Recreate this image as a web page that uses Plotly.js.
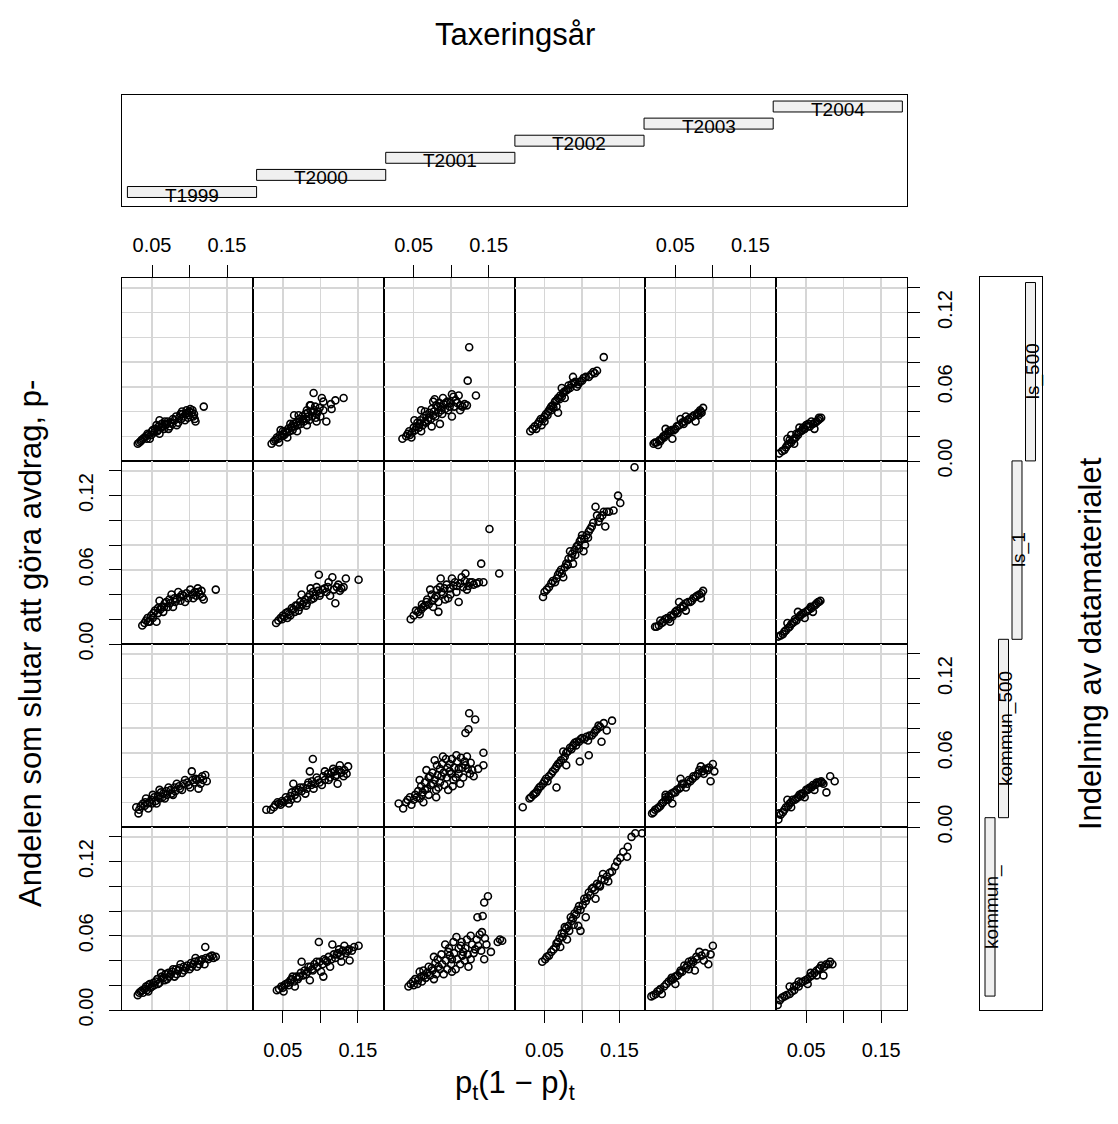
<!DOCTYPE html>
<html><head><meta charset="utf-8">
<script src="https://cdn.plot.ly/plotly-3.0.1.min.js"></script>
<style>html,body{margin:0;padding:0;background:#fff}#chart{width:1118px;height:1124px}</style>
</head><body><div id="chart"></div>
<script>
// ---- conditioning levels ----
const years = ['T1999','T2000','T2001','T2002','T2003','T2004'];
const yearLow = [0.5,1.5,2.5,3.5,4.5,5.5];
const yearHigh = [1.5,2.5,3.5,4.5,5.5,6.5];
const groups = ['kommun_','kommun_500','ls_1','ls_500']; // bottom to top
const groupLow = [0.5,1.5,2.5,3.5];
const groupHigh = [1.5,2.5,3.5,4.5];

// ---- ticks ----
const xTickVals = [0.05,0.15];
const xTickText = ['0.05','0.15'];
const xMinorVals = [0.10];
const yTickVals = [0,0.06,0.12];
const yTickText = ['0.00','0.06','0.12'];
const yMinorVals = [0.02,0.04,0.08,0.10,0.14];

// ---- data: [p(1-p), share] per panel ----
const ls_500_T1999 = [[0.031,0.014],[0.035,0.016],[0.038,0.018],[0.042,0.020],[0.045,0.021],[0.047,0.018],[0.051,0.025],[0.053,0.023],[0.056,0.029],[0.058,0.025],[0.060,0.022],[0.060,0.033],[0.062,0.027],[0.065,0.028],[0.067,0.032],[0.070,0.030],[0.072,0.026],[0.075,0.031],[0.078,0.034],[0.083,0.029],[0.086,0.035],[0.088,0.038],[0.090,0.040],[0.094,0.033],[0.097,0.039],[0.099,0.037],[0.101,0.042],[0.103,0.039],[0.105,0.036],[0.108,0.032],[0.119,0.044],
  [0.033,0.015],[0.036,0.017],[0.040,0.019],[0.043,0.018],[0.044,0.022],[0.049,0.021],[0.050,0.024],[0.054,0.026],[0.057,0.024],[0.059,0.028],[0.063,0.030],[0.066,0.026],[0.068,0.029],[0.071,0.032],[0.074,0.028],[0.077,0.030],[0.080,0.033],[0.082,0.036],[0.085,0.031],[0.089,0.034],[0.092,0.036],[0.095,0.038],[0.098,0.035],[0.100,0.040],[0.104,0.041],[0.106,0.038],[0.107,0.034],[0.096,0.041],[0.091,0.038]];
const ls_500_T2000 = [[0.035,0.014],[0.040,0.017],[0.045,0.015],[0.047,0.025],[0.051,0.022],[0.053,0.024],[0.056,0.019],[0.060,0.030],[0.062,0.028],[0.065,0.037],[0.069,0.024],[0.071,0.037],[0.073,0.032],[0.077,0.034],[0.082,0.041],[0.082,0.029],[0.084,0.036],[0.086,0.045],[0.087,0.045],[0.090,0.040],[0.091,0.055],[0.093,0.044],[0.095,0.038],[0.095,0.032],[0.100,0.036],[0.102,0.051],[0.104,0.048],[0.104,0.041],[0.108,0.032],[0.114,0.046],[0.115,0.042],[0.120,0.049],[0.131,0.051],
  [0.038,0.016],[0.042,0.019],[0.044,0.018],[0.046,0.021],[0.049,0.020],[0.050,0.024],[0.052,0.021],[0.055,0.023],[0.057,0.026],[0.059,0.024],[0.061,0.027],[0.063,0.025],[0.064,0.030],[0.066,0.028],[0.068,0.031],[0.070,0.029],[0.072,0.034],[0.074,0.030],[0.076,0.036],[0.078,0.032],[0.080,0.038],[0.081,0.034],[0.083,0.039],[0.085,0.033],[0.088,0.040],[0.089,0.036],[0.092,0.041],[0.094,0.035],[0.097,0.040],[0.099,0.043]];
const ls_500_T2001 = [[0.035,0.018],[0.042,0.022],[0.045,0.021],[0.047,0.019],[0.051,0.033],[0.054,0.028],[0.058,0.030],[0.060,0.024],[0.060,0.041],[0.065,0.032],[0.065,0.040],[0.070,0.035],[0.074,0.028],[0.076,0.037],[0.076,0.048],[0.078,0.050],[0.082,0.044],[0.085,0.030],[0.087,0.041],[0.089,0.051],[0.093,0.047],[0.098,0.044],[0.101,0.036],[0.101,0.054],[0.103,0.052],[0.110,0.053],[0.112,0.045],[0.112,0.041],[0.121,0.045],[0.122,0.065],[0.124,0.092],[0.133,0.053],
  [0.040,0.020],[0.044,0.024],[0.048,0.023],[0.050,0.027],[0.052,0.025],[0.055,0.031],[0.057,0.027],[0.059,0.033],[0.062,0.029],[0.063,0.035],[0.066,0.031],[0.067,0.037],[0.069,0.033],[0.071,0.039],[0.073,0.034],[0.074,0.042],[0.077,0.040],[0.079,0.036],[0.080,0.045],[0.083,0.039],[0.084,0.047],[0.086,0.044],[0.088,0.038],[0.090,0.046],[0.092,0.042],[0.095,0.048],[0.096,0.041],[0.099,0.047],[0.104,0.044],[0.106,0.049],[0.108,0.047],[0.115,0.044],[0.118,0.046]];
const ls_500_T2002 = [[0.031,0.024],[0.037,0.028],[0.039,0.026],[0.043,0.032],[0.046,0.029],[0.050,0.036],[0.050,0.032],[0.055,0.040],[0.059,0.044],[0.059,0.041],[0.064,0.048],[0.066,0.044],[0.068,0.051],[0.068,0.039],[0.073,0.059],[0.075,0.055],[0.077,0.051],[0.079,0.057],[0.084,0.059],[0.088,0.068],[0.091,0.064],[0.093,0.060],[0.097,0.064],[0.102,0.067],[0.109,0.068],[0.115,0.072],[0.120,0.073],[0.129,0.084],
  [0.034,0.026],[0.041,0.030],[0.045,0.034],[0.048,0.034],[0.052,0.038],[0.054,0.037],[0.057,0.042],[0.061,0.045],[0.062,0.043],[0.066,0.049],[0.070,0.050],[0.071,0.053],[0.073,0.052],[0.076,0.056],[0.081,0.058],[0.082,0.061],[0.086,0.062],[0.089,0.063],[0.095,0.062],[0.100,0.065],[0.105,0.068],[0.112,0.070],[0.117,0.071]];
const ls_500_T2003 = [[0.021,0.014],[0.025,0.015],[0.027,0.013],[0.032,0.018],[0.037,0.021],[0.037,0.026],[0.043,0.024],[0.046,0.018],[0.048,0.025],[0.055,0.029],[0.057,0.034],[0.061,0.030],[0.064,0.036],[0.066,0.033],[0.073,0.036],[0.077,0.032],[0.079,0.038],[0.081,0.037],[0.084,0.040],[0.087,0.043],
  [0.023,0.015],[0.029,0.017],[0.030,0.016],[0.034,0.020],[0.035,0.019],[0.040,0.022],[0.041,0.024],[0.045,0.025],[0.050,0.026],[0.052,0.028],[0.059,0.031],[0.062,0.032],[0.068,0.034],[0.070,0.035],[0.075,0.037],[0.080,0.039],[0.083,0.041],[0.085,0.039]];
const ls_500_T2004 = [[0.014,0.006],[0.021,0.009],[0.025,0.013],[0.025,0.018],[0.030,0.015],[0.030,0.021],[0.034,0.018],[0.034,0.014],[0.039,0.021],[0.041,0.027],[0.043,0.024],[0.048,0.026],[0.050,0.029],[0.055,0.028],[0.057,0.032],[0.059,0.030],[0.061,0.026],[0.064,0.032],[0.068,0.034],[0.070,0.035],
  [0.018,0.008],[0.023,0.011],[0.027,0.014],[0.028,0.017],[0.032,0.017],[0.036,0.019],[0.037,0.022],[0.040,0.023],[0.045,0.025],[0.046,0.027],[0.052,0.028],[0.053,0.030],[0.062,0.031],[0.066,0.033],[0.067,0.035]];

const ls_1_T1999 = [[0.037,0.015],[0.042,0.019],[0.047,0.018],[0.049,0.023],[0.054,0.027],[0.056,0.018],[0.060,0.035],[0.063,0.030],[0.065,0.026],[0.069,0.034],[0.076,0.040],[0.078,0.030],[0.083,0.036],[0.085,0.042],[0.090,0.040],[0.094,0.034],[0.101,0.044],[0.105,0.037],[0.111,0.045],[0.114,0.040],[0.119,0.036],[0.135,0.044],
  [0.040,0.017],[0.044,0.021],[0.045,0.018],[0.051,0.021],[0.052,0.025],[0.058,0.025],[0.058,0.029],[0.061,0.028],[0.066,0.030],[0.067,0.033],[0.071,0.030],[0.073,0.036],[0.074,0.033],[0.080,0.037],[0.081,0.034],[0.087,0.038],[0.088,0.035],[0.092,0.039],[0.096,0.041],[0.098,0.037],[0.103,0.040],[0.107,0.042],[0.109,0.039],[0.112,0.042],[0.116,0.043],[0.117,0.038]];
const ls_1_T2000 = [[0.041,0.017],[0.047,0.021],[0.054,0.025],[0.056,0.021],[0.060,0.023],[0.062,0.029],[0.069,0.031],[0.071,0.027],[0.075,0.040],[0.078,0.034],[0.082,0.033],[0.084,0.038],[0.087,0.045],[0.091,0.037],[0.095,0.046],[0.098,0.056],[0.100,0.041],[0.106,0.045],[0.111,0.050],[0.113,0.039],[0.116,0.054],[0.120,0.033],[0.124,0.048],[0.126,0.043],[0.131,0.046],[0.134,0.053],[0.151,0.052],
  [0.044,0.019],[0.049,0.020],[0.050,0.023],[0.052,0.022],[0.057,0.026],[0.058,0.024],[0.064,0.028],[0.066,0.026],[0.067,0.031],[0.073,0.030],[0.073,0.034],[0.076,0.032],[0.080,0.036],[0.081,0.031],[0.086,0.040],[0.088,0.036],[0.090,0.042],[0.093,0.039],[0.097,0.043],[0.099,0.039],[0.103,0.044],[0.108,0.042],[0.110,0.046],[0.118,0.044],[0.122,0.046],[0.128,0.045]];
const ls_1_T2001 = [[0.046,0.020],[0.056,0.026],[0.058,0.024],[0.063,0.030],[0.067,0.034],[0.072,0.044],[0.076,0.030],[0.078,0.037],[0.083,0.026],[0.086,0.053],[0.087,0.042],[0.094,0.048],[0.096,0.037],[0.101,0.053],[0.105,0.050],[0.107,0.042],[0.110,0.034],[0.114,0.054],[0.119,0.057],[0.121,0.044],[0.125,0.050],[0.134,0.049],[0.140,0.065],[0.143,0.050],[0.151,0.093],[0.164,0.057],
  [0.050,0.023],[0.053,0.027],[0.060,0.028],[0.061,0.032],[0.065,0.031],[0.068,0.036],[0.070,0.032],[0.074,0.040],[0.075,0.035],[0.080,0.039],[0.081,0.044],[0.083,0.034],[0.085,0.046],[0.089,0.040],[0.091,0.045],[0.092,0.036],[0.098,0.045],[0.099,0.040],[0.103,0.047],[0.108,0.047],[0.112,0.049],[0.116,0.046],[0.118,0.051],[0.123,0.047],[0.128,0.050],[0.130,0.048],[0.137,0.050]];
const ls_1_T2002 = [[0.048,0.038],[0.050,0.042],[0.059,0.049],[0.064,0.050],[0.066,0.053],[0.070,0.058],[0.075,0.054],[0.077,0.062],[0.082,0.069],[0.084,0.075],[0.088,0.065],[0.091,0.072],[0.093,0.079],[0.097,0.083],[0.100,0.088],[0.102,0.075],[0.104,0.080],[0.109,0.091],[0.113,0.095],[0.118,0.111],[0.122,0.099],[0.127,0.104],[0.131,0.095],[0.133,0.107],[0.142,0.108],[0.148,0.120],[0.151,0.114],[0.170,0.143],
  [0.053,0.044],[0.056,0.046],[0.061,0.051],[0.068,0.056],[0.072,0.060],[0.073,0.057],[0.079,0.065],[0.081,0.064],[0.086,0.070],[0.087,0.073],[0.090,0.076],[0.095,0.080],[0.096,0.077],[0.099,0.085],[0.103,0.085],[0.106,0.088],[0.108,0.086],[0.111,0.093],[0.115,0.098],[0.120,0.104],[0.124,0.102],[0.129,0.107],[0.136,0.107]];
const ls_1_T2003 = [[0.023,0.014],[0.028,0.015],[0.030,0.019],[0.034,0.018],[0.039,0.021],[0.043,0.018],[0.046,0.022],[0.050,0.026],[0.055,0.034],[0.057,0.029],[0.064,0.033],[0.064,0.027],[0.070,0.034],[0.077,0.038],[0.082,0.040],[0.084,0.037],[0.087,0.043],
  [0.025,0.014],[0.032,0.017],[0.036,0.020],[0.041,0.020],[0.044,0.023],[0.048,0.024],[0.052,0.027],[0.053,0.025],[0.060,0.031],[0.061,0.030],[0.067,0.034],[0.072,0.035],[0.074,0.037],[0.079,0.039],[0.085,0.041]];
const ls_1_T2004 = [[0.013,0.006],[0.019,0.008],[0.023,0.011],[0.025,0.017],[0.028,0.014],[0.032,0.017],[0.037,0.019],[0.039,0.026],[0.041,0.022],[0.046,0.025],[0.048,0.021],[0.052,0.027],[0.057,0.029],[0.059,0.026],[0.061,0.031],[0.066,0.034],[0.069,0.035],
  [0.016,0.007],[0.021,0.010],[0.026,0.013],[0.030,0.016],[0.034,0.018],[0.035,0.020],[0.042,0.023],[0.044,0.024],[0.050,0.026],[0.054,0.028],[0.056,0.030],[0.063,0.032],[0.064,0.033],[0.067,0.034]];

const kommun_500_T1999 = [[0.029,0.016],[0.032,0.011],[0.038,0.019],[0.042,0.023],[0.045,0.015],[0.047,0.020],[0.051,0.026],[0.056,0.019],[0.060,0.030],[0.065,0.027],[0.067,0.023],[0.072,0.032],[0.078,0.026],[0.083,0.035],[0.090,0.030],[0.094,0.038],[0.101,0.032],[0.103,0.045],[0.108,0.039],[0.112,0.031],[0.117,0.041],[0.121,0.042],[0.123,0.037],
  [0.033,0.014],[0.035,0.017],[0.040,0.017],[0.041,0.020],[0.044,0.019],[0.049,0.022],[0.050,0.019],[0.053,0.024],[0.055,0.021],[0.058,0.025],[0.060,0.023],[0.062,0.028],[0.064,0.024],[0.069,0.029],[0.070,0.026],[0.075,0.030],[0.076,0.027],[0.080,0.032],[0.081,0.029],[0.086,0.033],[0.087,0.031],[0.092,0.035],[0.097,0.036],[0.099,0.034],[0.104,0.038],[0.106,0.036],[0.110,0.038],[0.114,0.039],[0.118,0.038],[0.115,0.035]];
const kommun_500_T2000 = [[0.028,0.014],[0.034,0.014],[0.038,0.016],[0.043,0.020],[0.047,0.018],[0.054,0.024],[0.058,0.019],[0.062,0.028],[0.064,0.035],[0.069,0.023],[0.073,0.032],[0.080,0.027],[0.084,0.036],[0.086,0.045],[0.090,0.055],[0.091,0.031],[0.095,0.040],[0.102,0.034],[0.106,0.045],[0.111,0.038],[0.117,0.047],[0.122,0.042],[0.123,0.035],[0.126,0.050],[0.131,0.041],[0.135,0.043],[0.137,0.049],
  [0.040,0.018],[0.045,0.019],[0.049,0.021],[0.051,0.020],[0.056,0.022],[0.060,0.025],[0.061,0.022],[0.066,0.026],[0.067,0.029],[0.071,0.030],[0.075,0.029],[0.077,0.032],[0.082,0.031],[0.083,0.034],[0.088,0.034],[0.089,0.037],[0.093,0.035],[0.097,0.038],[0.099,0.036],[0.104,0.041],[0.106,0.038],[0.110,0.043],[0.113,0.040],[0.115,0.044],[0.119,0.045],[0.120,0.041],[0.125,0.046],[0.128,0.044],[0.132,0.046]];
const kommun_500_T2001 = [[0.030,0.019],[0.036,0.015],[0.045,0.024],[0.047,0.018],[0.054,0.024],[0.058,0.038],[0.061,0.026],[0.063,0.020],[0.065,0.030],[0.067,0.046],[0.072,0.041],[0.076,0.035],[0.078,0.054],[0.080,0.024],[0.083,0.032],[0.085,0.047],[0.087,0.041],[0.089,0.057],[0.096,0.030],[0.098,0.045],[0.098,0.051],[0.103,0.038],[0.107,0.058],[0.110,0.047],[0.112,0.035],[0.119,0.050],[0.119,0.076],[0.121,0.057],[0.123,0.079],[0.124,0.092],[0.125,0.043],[0.130,0.041],[0.132,0.087],[0.136,0.047],[0.143,0.060],[0.143,0.050],
  [0.040,0.020],[0.042,0.022],[0.050,0.022],[0.052,0.026],[0.056,0.029],[0.058,0.023],[0.060,0.033],[0.062,0.028],[0.065,0.036],[0.068,0.031],[0.070,0.040],[0.070,0.026],[0.073,0.034],[0.075,0.044],[0.078,0.038],[0.080,0.030],[0.081,0.050],[0.082,0.042],[0.085,0.036],[0.088,0.051],[0.090,0.044],[0.091,0.034],[0.093,0.055],[0.094,0.040],[0.095,0.048],[0.100,0.043],[0.101,0.055],[0.102,0.033],[0.104,0.048],[0.106,0.040],[0.108,0.053],[0.110,0.043],[0.113,0.056],[0.115,0.048],[0.116,0.040],[0.118,0.053],[0.122,0.047],[0.126,0.052],[0.128,0.046]];
const kommun_500_T2002 = [[0.021,0.016],[0.030,0.023],[0.032,0.024],[0.039,0.028],[0.043,0.032],[0.048,0.035],[0.052,0.039],[0.054,0.037],[0.059,0.043],[0.064,0.047],[0.066,0.032],[0.068,0.051],[0.075,0.055],[0.075,0.061],[0.079,0.060],[0.079,0.050],[0.084,0.064],[0.088,0.066],[0.090,0.068],[0.093,0.069],[0.097,0.053],[0.100,0.072],[0.106,0.073],[0.109,0.058],[0.113,0.074],[0.118,0.078],[0.122,0.082],[0.126,0.069],[0.129,0.084],[0.133,0.078],[0.140,0.086],
  [0.035,0.026],[0.037,0.027],[0.041,0.030],[0.045,0.033],[0.050,0.037],[0.056,0.041],[0.061,0.045],[0.066,0.049],[0.070,0.052],[0.072,0.054],[0.077,0.057],[0.081,0.061],[0.086,0.063],[0.092,0.066],[0.096,0.069],[0.098,0.071],[0.103,0.071],[0.110,0.074],[0.116,0.076],[0.120,0.079],[0.124,0.081],[0.108,0.070]];
const kommun_500_T2003 = [[0.019,0.011],[0.023,0.014],[0.028,0.016],[0.032,0.019],[0.037,0.022],[0.037,0.026],[0.037,0.024],[0.043,0.024],[0.046,0.019],[0.048,0.028],[0.055,0.031],[0.057,0.039],[0.059,0.035],[0.064,0.032],[0.070,0.037],[0.077,0.041],[0.082,0.046],[0.084,0.049],[0.088,0.043],[0.093,0.046],[0.097,0.037],[0.100,0.051],[0.102,0.045],
  [0.021,0.012],[0.026,0.015],[0.030,0.017],[0.034,0.020],[0.040,0.022],[0.041,0.025],[0.045,0.027],[0.050,0.028],[0.052,0.030],[0.057,0.032],[0.061,0.035],[0.066,0.035],[0.068,0.038],[0.073,0.039],[0.074,0.041],[0.080,0.043],[0.086,0.045],[0.090,0.047],[0.095,0.048]];
const kommun_500_T2004 = [[0.013,0.006],[0.014,0.011],[0.019,0.012],[0.023,0.016],[0.025,0.022],[0.028,0.019],[0.030,0.016],[0.032,0.022],[0.037,0.023],[0.041,0.026],[0.046,0.027],[0.048,0.024],[0.050,0.030],[0.055,0.032],[0.059,0.034],[0.061,0.030],[0.064,0.036],[0.068,0.036],[0.073,0.035],[0.077,0.028],[0.082,0.041],[0.088,0.037],
  [0.016,0.010],[0.021,0.014],[0.026,0.017],[0.030,0.020],[0.035,0.022],[0.039,0.024],[0.043,0.025],[0.044,0.027],[0.052,0.030],[0.053,0.031],[0.057,0.032],[0.062,0.034],[0.066,0.036],[0.070,0.037],[0.071,0.036]];

const kommun_T1999 = [[0.031,0.012],[0.035,0.015],[0.040,0.017],[0.045,0.020],[0.045,0.015],[0.050,0.019],[0.055,0.023],[0.060,0.022],[0.062,0.030],[0.065,0.026],[0.070,0.025],[0.075,0.029],[0.078,0.033],[0.080,0.027],[0.085,0.032],[0.088,0.037],[0.090,0.030],[0.095,0.034],[0.100,0.033],[0.105,0.037],[0.108,0.042],[0.110,0.035],[0.115,0.040],[0.120,0.037],[0.121,0.051],[0.125,0.041],[0.130,0.044],[0.135,0.043],
  [0.033,0.014],[0.037,0.016],[0.038,0.014],[0.042,0.019],[0.043,0.016],[0.047,0.021],[0.048,0.018],[0.052,0.022],[0.053,0.020],[0.057,0.025],[0.058,0.021],[0.063,0.027],[0.067,0.024],[0.068,0.029],[0.072,0.030],[0.073,0.027],[0.077,0.031],[0.082,0.033],[0.083,0.029],[0.087,0.034],[0.092,0.035],[0.093,0.032],[0.097,0.036],[0.102,0.038],[0.103,0.035],[0.107,0.039],[0.112,0.040],[0.113,0.037],[0.117,0.041],[0.122,0.042],[0.127,0.043],[0.132,0.042]];
const kommun_T2000 = [[0.042,0.016],[0.048,0.019],[0.051,0.015],[0.054,0.021],[0.060,0.024],[0.063,0.027],[0.066,0.019],[0.072,0.027],[0.075,0.039],[0.081,0.029],[0.084,0.035],[0.086,0.024],[0.089,0.033],[0.095,0.039],[0.098,0.055],[0.101,0.031],[0.104,0.027],[0.107,0.040],[0.113,0.035],[0.116,0.053],[0.122,0.045],[0.125,0.049],[0.128,0.039],[0.132,0.052],[0.136,0.048],[0.139,0.040],[0.145,0.051],[0.151,0.052],
  [0.045,0.017],[0.050,0.018],[0.052,0.020],[0.057,0.022],[0.058,0.020],[0.062,0.025],[0.065,0.023],[0.068,0.027],[0.070,0.025],[0.074,0.030],[0.077,0.028],[0.079,0.032],[0.083,0.031],[0.087,0.035],[0.090,0.032],[0.092,0.037],[0.096,0.035],[0.099,0.039],[0.103,0.037],[0.105,0.041],[0.109,0.039],[0.111,0.043],[0.115,0.041],[0.118,0.045],[0.120,0.042],[0.124,0.046],[0.127,0.044],[0.130,0.048],[0.134,0.046],[0.138,0.049],[0.142,0.048]];
const kommun_T2001 = [[0.043,0.019],[0.049,0.023],[0.055,0.021],[0.058,0.031],[0.064,0.028],[0.074,0.034],[0.077,0.043],[0.077,0.025],[0.083,0.035],[0.092,0.053],[0.096,0.047],[0.101,0.041],[0.101,0.031],[0.107,0.059],[0.113,0.052],[0.116,0.047],[0.123,0.035],[0.126,0.060],[0.126,0.041],[0.132,0.049],[0.135,0.075],[0.138,0.061],[0.141,0.063],[0.142,0.076],[0.144,0.087],[0.144,0.041],[0.147,0.053],[0.149,0.092],[0.153,0.047],[0.162,0.055],[0.165,0.057],[0.168,0.056],
  [0.046,0.021],[0.050,0.020],[0.052,0.025],[0.056,0.024],[0.060,0.027],[0.061,0.023],[0.063,0.032],[0.066,0.026],[0.068,0.030],[0.070,0.035],[0.072,0.028],[0.075,0.032],[0.079,0.038],[0.080,0.029],[0.082,0.041],[0.085,0.033],[0.087,0.045],[0.088,0.037],[0.090,0.029],[0.093,0.040],[0.095,0.033],[0.097,0.050],[0.098,0.044],[0.100,0.037],[0.103,0.055],[0.104,0.046],[0.106,0.033],[0.108,0.041],[0.110,0.050],[0.112,0.037],[0.114,0.055],[0.115,0.044],[0.118,0.040],[0.119,0.050],[0.121,0.057],[0.122,0.045],[0.128,0.053],[0.130,0.046],[0.134,0.057],[0.136,0.052],[0.140,0.048],[0.145,0.058]];
const kommun_T2002 = [[0.047,0.039],[0.051,0.041],[0.059,0.047],[0.065,0.051],[0.068,0.055],[0.071,0.051],[0.074,0.059],[0.077,0.067],[0.080,0.057],[0.083,0.064],[0.086,0.072],[0.089,0.069],[0.092,0.077],[0.095,0.068],[0.098,0.081],[0.098,0.064],[0.105,0.088],[0.105,0.075],[0.111,0.093],[0.115,0.099],[0.117,0.097],[0.118,0.090],[0.123,0.101],[0.124,0.100],[0.128,0.110],[0.130,0.105],[0.135,0.104],[0.137,0.111],[0.140,0.112],[0.144,0.116],[0.151,0.123],[0.160,0.124],[0.161,0.132],[0.166,0.140],[0.171,0.143],[0.180,0.143],
  [0.053,0.043],[0.056,0.044],[0.062,0.049],[0.066,0.054],[0.070,0.058],[0.073,0.062],[0.076,0.062],[0.079,0.066],[0.082,0.068],[0.085,0.075],[0.088,0.074],[0.090,0.078],[0.094,0.081],[0.096,0.084],[0.101,0.085],[0.103,0.090],[0.107,0.091],[0.109,0.095],[0.113,0.098],[0.120,0.102],[0.126,0.106],[0.133,0.108],[0.147,0.120],[0.155,0.128]];
const kommun_T2003 = [[0.018,0.011],[0.024,0.013],[0.029,0.016],[0.032,0.013],[0.035,0.019],[0.041,0.023],[0.047,0.025],[0.050,0.021],[0.053,0.028],[0.059,0.031],[0.062,0.036],[0.068,0.033],[0.068,0.039],[0.074,0.039],[0.076,0.032],[0.079,0.041],[0.082,0.047],[0.088,0.040],[0.094,0.037],[0.097,0.045],[0.100,0.052],
  [0.021,0.012],[0.026,0.015],[0.030,0.017],[0.038,0.021],[0.044,0.024],[0.045,0.026],[0.050,0.027],[0.056,0.030],[0.057,0.032],[0.064,0.034],[0.066,0.036],[0.071,0.037],[0.072,0.040],[0.078,0.043],[0.085,0.044],[0.090,0.046]];
const kommun_T2004 = [[0.012,0.004],[0.015,0.008],[0.021,0.011],[0.028,0.013],[0.028,0.019],[0.034,0.016],[0.040,0.019],[0.040,0.023],[0.046,0.023],[0.052,0.025],[0.052,0.021],[0.058,0.028],[0.064,0.032],[0.064,0.028],[0.070,0.036],[0.073,0.028],[0.082,0.039],[0.085,0.037],
  [0.018,0.010],[0.024,0.012],[0.031,0.015],[0.034,0.019],[0.037,0.020],[0.043,0.022],[0.049,0.024],[0.055,0.027],[0.056,0.030],[0.061,0.030],[0.067,0.033],[0.068,0.034],[0.074,0.035],[0.077,0.037],[0.080,0.037]];

const panelData = {
  'kommun_':    [kommun_T1999, kommun_T2000, kommun_T2001, kommun_T2002, kommun_T2003, kommun_T2004],
  'kommun_500': [kommun_500_T1999, kommun_500_T2000, kommun_500_T2001, kommun_500_T2002, kommun_500_T2003, kommun_500_T2004],
  'ls_1':       [ls_1_T1999, ls_1_T2000, ls_1_T2001, ls_1_T2002, ls_1_T2003, ls_1_T2004],
  'ls_500':     [ls_500_T1999, ls_500_T2000, ls_500_T2001, ls_500_T2002, ls_500_T2003, ls_500_T2004]
};

// ---- layout geometry ----
const W = 1118, H = 1124;
const F = 'Liberation Sans, Arial, Helvetica, sans-serif';
const gL = 122, gR = 907, gT = 278, gB = 1010;
const cw = (gR - gL) / 6, rh = (gB - gT) / 4;
const px = v => v / W, py = v => 1 - v / H;
const GRID = '#d6d6d6';

const traces = [];
const layout = {
  width: W, height: H, margin: {l:0, r:0, t:0, b:0},
  paper_bgcolor: '#fff', plot_bgcolor: '#fff', showlegend: false,
  font: {family: F, color: '#000', size: 20},
  annotations: []
};

for (let r = 0; r < 4; r++) {           // r = 0 is the top row
  const g = groups[3 - r];
  for (let c = 0; c < 6; c++) {
    const i = r * 6 + c + 1;
    const sx = i === 1 ? '' : String(i);
    const pts = panelData[g][c];
    traces.push({
      type: 'scatter', mode: 'markers',
      x: pts.map(p => p[0]), y: pts.map(p => p[1]),
      xaxis: 'x' + sx, yaxis: 'y' + sx,
      marker: {symbol: 'circle-open', size: 7, color: '#000', line: {width: 1.6, color: '#000'}},
      hoverinfo: 'skip'
    });
    const showX = (r === 0 && c % 2 === 0) || (r === 3 && c % 2 === 1);
    const showYL = (c === 0) && (r === 1 || r === 3);
    const showYR = (c === 5) && (r === 0 || r === 2);
    const showY = showYL || showYR;
    layout['xaxis' + sx] = {
      domain: [px(gL + c * cw), px(gL + (c + 1) * cw)],
      anchor: 'y' + sx, range: [0.010, 0.1844],
      tickmode: 'array', tickvals: xTickVals, ticktext: xTickText,
      showgrid: true, gridcolor: GRID, gridwidth: 1.5, zeroline: false,
      showline: true, mirror: true, linecolor: '#000', linewidth: 1,
      side: r === 0 ? 'top' : 'bottom',
      ticks: showX ? 'outside' : '', ticklen: 12, tickwidth: 1, tickcolor: '#000',
      minor: {tickmode: 'array', tickvals: xMinorVals, ticks: showX ? 'outside' : '', ticklen: 12,
              tickwidth: 1, tickcolor: '#000', showgrid: true, gridcolor: GRID, gridwidth: 1.5},
      showticklabels: showX, tickfont: {size: 20, family: F, color: '#000'},
      ticklabelstandoff: r === 0 ? 5 : 10, fixedrange: true
    };
    layout['yaxis' + sx] = {
      domain: [py(gT + (r + 1) * rh), py(gT + r * rh)],
      anchor: 'x' + sx, range: [0, 0.148],
      tickmode: 'array', tickvals: yTickVals, ticktext: yTickText,
      showgrid: true, gridcolor: GRID, gridwidth: 1.5, zeroline: false,
      showline: true, mirror: true, linecolor: '#000', linewidth: 1,
      side: showYR ? 'right' : 'left',
      ticks: showY ? 'outside' : '', ticklen: 12, tickwidth: 1, tickcolor: '#000',
      minor: {tickmode: 'array', tickvals: yMinorVals, ticks: showY ? 'outside' : '', ticklen: 12,
              tickwidth: 1, tickcolor: '#000', showgrid: true, gridcolor: GRID, gridwidth: 1.5},
      showticklabels: showY, tickangle: -90, tickfont: {size: 20, family: F, color: '#000'},
      ticklabelstandoff: 8, fixedrange: true
    };
  }
}

// ---- top shingle panel (years) ----
traces.push({
  type: 'bar', orientation: 'h', xaxis: 'x25', yaxis: 'y25',
  y: years.map((_, k) => k + 1),
  x: years.map((_, k) => yearHigh[k] - yearLow[k]),
  base: yearLow, width: 0.64,
  marker: {color: '#f0f0f0', line: {color: '#000', width: 1}},
  hoverinfo: 'skip'
});
layout.xaxis25 = {domain: [px(gL), px(gR)], anchor: 'y25', range: [0.458, 6.536],
  showgrid: false, zeroline: false, showticklabels: false, ticks: '',
  showline: true, mirror: true, linecolor: '#000', linewidth: 1, fixedrange: true};
layout.yaxis25 = {domain: [py(206), py(95)], anchor: 'x25', range: [0.181, 6.673],
  showgrid: false, zeroline: false, showticklabels: false, ticks: '',
  showline: true, mirror: true, linecolor: '#000', linewidth: 1, fixedrange: true};
years.forEach((yr, k) => layout.annotations.push({
  xref: 'x25', yref: 'y25', x: (yearLow[k] + yearHigh[k]) / 2, y: k + 1,
  text: yr, showarrow: false, yshift: -3, font: {size: 19, family: F, color: '#000'}
}));

// ---- right shingle panel (groups) ----
traces.push({
  type: 'bar', xaxis: 'x26', yaxis: 'y26',
  x: groups.map((_, k) => k + 1),
  y: groups.map((_, k) => groupHigh[k] - groupLow[k]),
  base: groupLow, width: 0.74,
  marker: {color: '#f0f0f0', line: {color: '#000', width: 1}},
  hoverinfo: 'skip'
});
layout.xaxis26 = {domain: [px(980), px(1042)], anchor: 'y26', range: [0.259, 4.852],
  showgrid: false, zeroline: false, showticklabels: false, ticks: '',
  showline: true, mirror: true, linecolor: '#000', linewidth: 1, fixedrange: true};
layout.yaxis26 = {domain: [py(gB), py(277)], anchor: 'x26', range: [0.422, 4.531],
  showgrid: false, zeroline: false, showticklabels: false, ticks: '',
  showline: true, mirror: true, linecolor: '#000', linewidth: 1, fixedrange: true};
groups.forEach((gname, k) => layout.annotations.push({
  xref: 'x26', yref: 'y26', x: k + 1, y: (groupLow[k] + groupHigh[k]) / 2,
  text: gname, showarrow: false, textangle: -90, xshift: 2,
  font: {size: 19, family: F, color: '#000'}
}));

// ---- titles ----
layout.annotations.push(
  {xref: 'paper', yref: 'paper', x: px(514.5), y: py(35), text: 'Taxeringsår', showarrow: false,
   xanchor: 'center', yanchor: 'middle', font: {size: 31, family: F, color: '#000'}},
  {xref: 'paper', yref: 'paper', x: px(514.5), y: py(1085), text: 'p<sub>t</sub>(1 − p)<sub>t</sub>', showarrow: false,
   xanchor: 'center', yanchor: 'middle', font: {size: 31, family: F, color: '#000'}},
  {xref: 'paper', yref: 'paper', x: px(30), y: py(644), text: 'Andelen som slutar att göra avdrag, p-', showarrow: false,
   textangle: -90, xanchor: 'center', yanchor: 'middle', font: {size: 31, family: F, color: '#000'}},
  {xref: 'paper', yref: 'paper', x: px(1090), y: py(644), text: 'Indelning av datamaterialet', showarrow: false,
   textangle: -90, xanchor: 'center', yanchor: 'middle', font: {size: 31, family: F, color: '#000'}}
);

Plotly.newPlot('chart', traces, layout, {displayModeBar: false, staticPlot: true});
</script>
</body></html>
